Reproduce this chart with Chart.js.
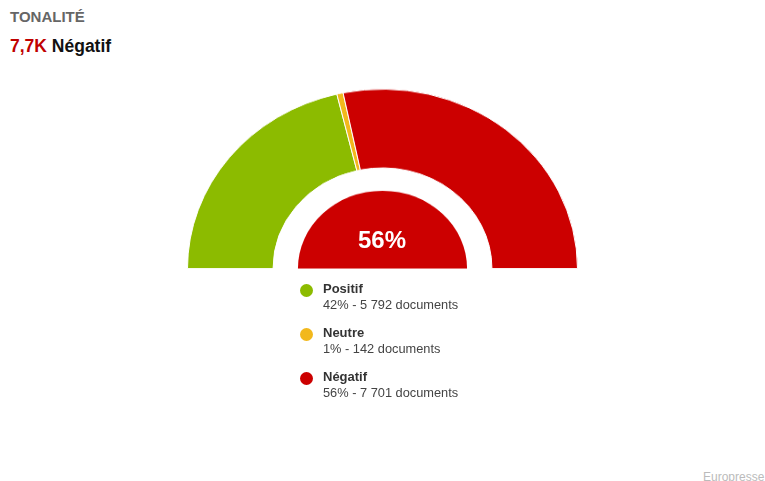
<!DOCTYPE html>
<html>
<head>
<meta charset="utf-8">
<script src="https://cdn.jsdelivr.net/npm/chart.js@4"></script>
<style>
  body { margin: 0; background: #fff; font-family: "Liberation Sans", Arial, sans-serif; width: 765px; height: 481px; position: relative; overflow: hidden; }
  .title { position: absolute; left: 10px; top: 8px; font-size: 15px; font-weight: bold; color: #666; }
  .big { position: absolute; left: 10px; top: 36px; font-size: 17.5px; font-weight: bold; color: #111; }
  .big span { color: #c00000; }
  #wrap { position: absolute; left: 186px; top: 73px; width: 393px; height: 196px; transform: scaleY(0.92); transform-origin: bottom; }
  .center { position: absolute; left: 332px; width: 100px; top: 226px; text-align: center; color: #fff; font-size: 24px; font-weight: bold; }
  #legend { position: absolute; left: 300px; top: 281px; }
  .item { position: relative; height: 44px; padding-left: 23px; }
  .dot { position: absolute; left: 0px; top: 3px; width: 13px; height: 13px; border-radius: 50%; }
  .lab { font-size: 13px; font-weight: bold; color: #333; line-height: 15px; }
  .sub { font-size: 12.8px; color: #444; line-height: 17px; }
  .src { position: absolute; left: 703px; top: 470px; font-size: 12px; color: #bbb; }
</style>
</head>
<body>
<div class="title">TONALITÉ</div>
<div class="big"><span>7,7K</span> Négatif</div>
<div id="wrap"><canvas id="gauge"></canvas></div>
<div class="center" id="pct"></div>
<div id="legend"></div>
<div class="src">Europresse</div>
<script>
const labels = ["Positif", "Neutre", "Négatif"];
const counts = [5792, 142, 7701];
const percents = [42, 1, 56];
const countLabels = ["5 792", "142", "7 701"];
const colors = ["#8cbb00", "#f2b81c", "#cc0000"];

document.getElementById("pct").textContent = percents[2] + "%";

const legend = document.getElementById("legend");
labels.forEach((name, i) => {
  const div = document.createElement("div");
  div.className = "item";
  div.innerHTML = `<span class="dot" style="background:${colors[i]}"></span>` +
    `<div class="lab">${name}</div>` +
    `<div class="sub">${percents[i]}% - ${countLabels[i]} documents</div>`;
  legend.appendChild(div);
});

new Chart(document.getElementById("gauge"), {
  type: "doughnut",
  data: {
    labels: labels,
    datasets: [
      { data: counts, backgroundColor: colors, borderColor: "#fff", borderWidth: 1, weight: 86 },
      { data: [1], backgroundColor: "rgba(0,0,0,0)", borderWidth: 0, weight: 25 },
      { data: [1], backgroundColor: colors[2], borderWidth: 0, weight: 85 }
    ]
  },
  options: {
    responsive: true,
    maintainAspectRatio: false,
    animation: false,
    rotation: -90,
    circumference: 180,
    cutout: 0,
    layout: { padding: 0 },
    plugins: { legend: { display: false }, tooltip: { enabled: false } },
    events: []
  }
});
</script>
</body>
</html>
